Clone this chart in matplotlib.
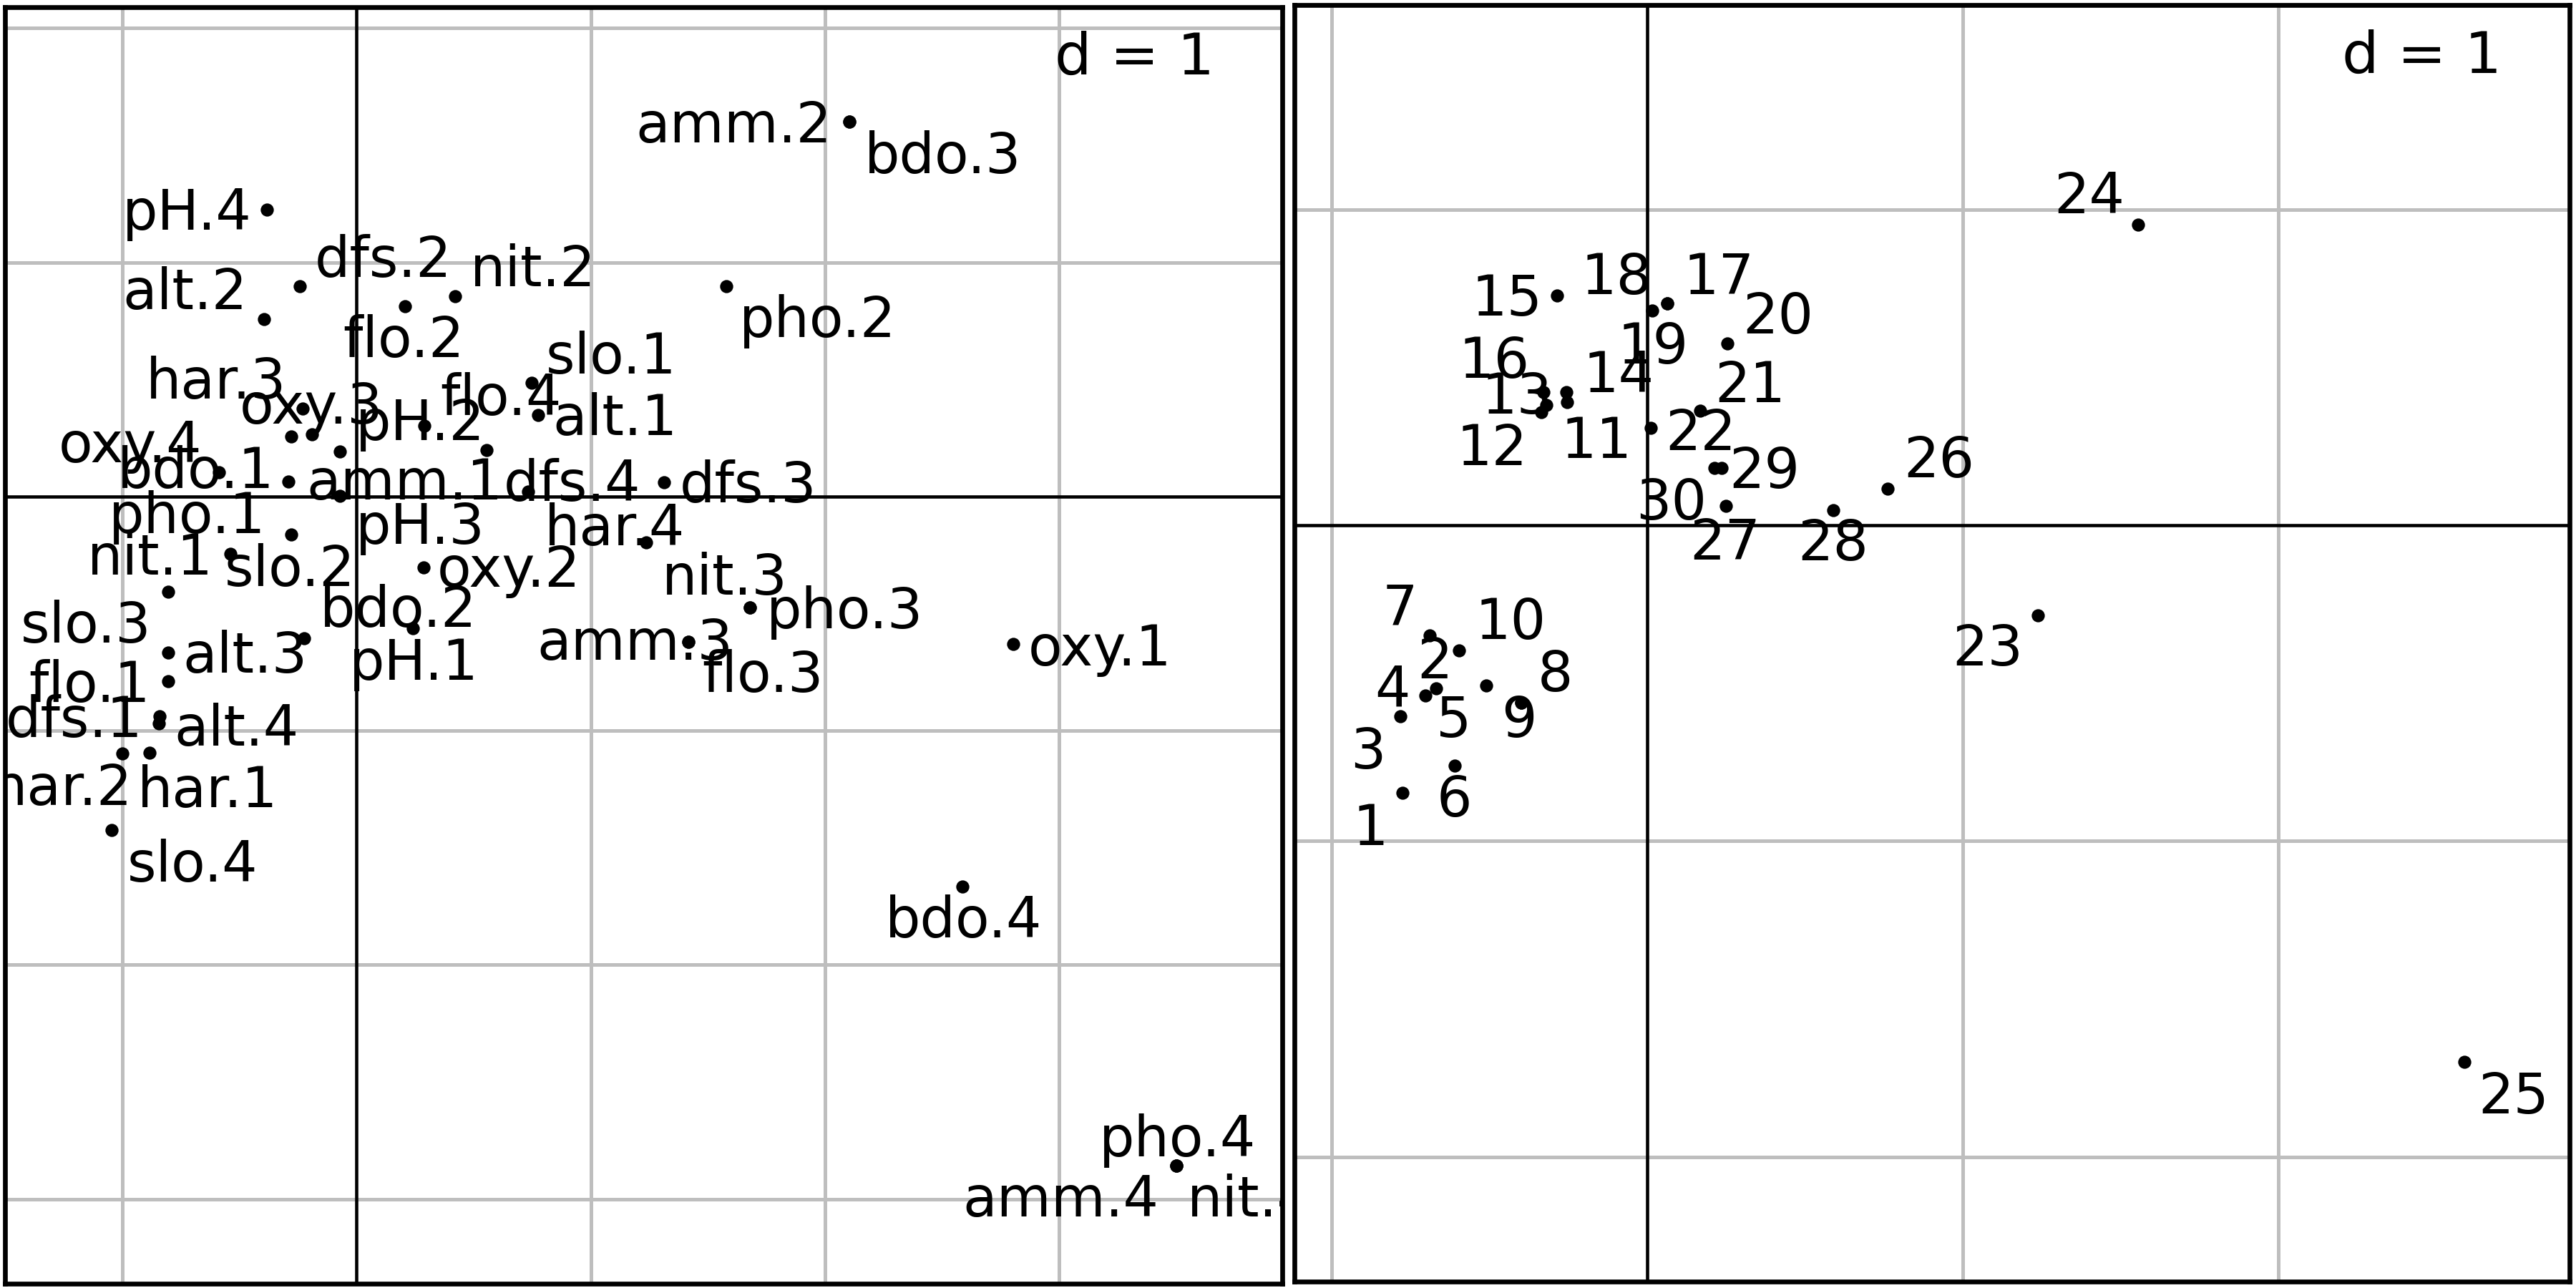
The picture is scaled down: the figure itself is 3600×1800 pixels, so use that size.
import matplotlib
matplotlib.use("Agg")
import matplotlib.pyplot as plt
import math

# left panel: modalities of the environmental variables
var_labels = ["dfs.1", "dfs.2", "dfs.3", "dfs.4",
              "alt.1", "alt.2", "alt.3", "alt.4",
              "slo.1", "slo.2", "slo.3", "slo.4",
              "flo.1", "flo.2", "flo.3", "flo.4",
              "pH.1", "pH.2", "pH.3", "pH.4",
              "har.1", "har.2", "har.3", "har.4",
              "pho.1", "pho.2", "pho.3", "pho.4",
              "nit.1", "nit.2", "nit.3", "nit.4",
              "amm.1", "amm.2", "amm.3", "amm.4",
              "oxy.1", "oxy.2", "oxy.3", "oxy.4",
              "bdo.1", "bdo.2", "bdo.3", "bdo.4"]
var_x = [-0.842, -0.242, 1.313, 0.733,
         0.774, -0.397, -0.805, -0.845,
         0.747, -0.278, -0.805, -1.046,
         -0.805, 0.205, 1.417, 0.555,
         0.240, 0.290, -0.071, -0.383,
         -0.886, -1.000, -0.231, 1.237,
         -0.280, 1.579, 1.680, 3.502,
         -0.540, 0.421, 1.680, 3.502,
         -0.071, 2.105, 1.417, 3.502,
         2.803, 0.285, -0.190, -0.588,
         -0.291, -0.225, 2.105, 2.588]
var_y = [-0.938, 0.898, 0.061, 0.022,
         0.348, 0.758, -0.666, -0.969,
         0.485, -0.162, -0.406, -1.425,
         -0.788, 0.813, -0.622, 0.197,
         -0.564, 0.302, 0.002, 1.226,
         -1.094, -1.099, 0.376, -0.195,
         0.256, 0.898, -0.474, -2.858,
         -0.245, 0.855, -0.474, -2.858,
         0.193, 1.600, -0.622, -2.858,
         -0.629, -0.304, 0.266, 0.103,
         0.064, -0.605, 1.600, -1.666]

# right panel: sites 1..30
site_labels = ["1", "2", "3", "4", "5", "6", "7", "8", "9", "10",
               "11", "12", "13", "14", "15", "16", "17", "18", "19", "20",
               "21", "22", "23", "24", "25", "26", "27", "28", "29", "30"]
site_x = [-0.775, -0.669, -0.782, -0.703, -0.509, -0.610, -0.688, -0.398, -0.398, -0.595,
          -0.253, -0.334, -0.318, -0.255, -0.285, -0.328, 0.064, 0.064, 0.017, 0.256,
          0.169, 0.013, 1.239, 1.557, 2.590, 0.763, 0.251, 0.590, 0.236, 0.214]
site_y = [-0.847, -0.517, -0.605, -0.539, -0.507, -0.760, -0.348, -0.562, -0.562, -0.396,
          0.391, 0.359, 0.382, 0.423, 0.729, 0.423, 0.703, 0.703, 0.680, 0.576,
          0.362, 0.308, -0.284, 0.953, -1.700, 0.117, 0.061, 0.048, 0.181, 0.181]

# where each label sits relative to its point (offset points, label centre/baseline)
var_offsets = [(-28.7, -7.0), (27.8, 3.2), (28.1, -6.7), (14.8, -3.2),
               (26.0, -6.8), (-26.4, 3.4), (25.7, -6.8), (26.0, -7.4),
               (26.7, 3.2), (-0.6, -17.2), (-27.5, -17.2), (27.1, -17.2),
               (-26.4, -7.0), (-0.3, -17.2), (25.0, -16.8), (4.8, 11.8),
               (0.3, -17.1), (-1.5, -4.7), (26.9, -16.0), (-26.9, -6.9),
               (19.6, -18.3), (-20.2, -17.2), (-29.0, 3.4), (-10.6, -1.0),
               (-34.8, -32.4), (30.7, -17.0), (31.7, -7.0), (0.2, 3.2),
               (-26.9, -7.0), (26.1, 3.4), (-8.4, 4.3), (24.6, -17.1),
               (21.6, -16.2), (-38.9, -6.9), (-18.0, -5.9), (-38.9, -17.1),
               (29.2, -7.2), (28.6, -6.4), (-0.2, 3.6), (-29.7, 3.4),
               (-31.1, -2.1), (31.7, 3.8), (31.3, -17.2), (0.4, -17.0)]
site_offsets = [(-10.8, -17.6), (-0.4, 3.5), (-10.8, -17.6), (-11.0, -3.7), (-10.9, -17.2),
                (0.0, -17.2), (-10.0, 3.2), (11.5, 3.8), (-0.8, -11.4), (17.2, 3.8),
                (9.9, -18.8), (-16.6, -17.7), (-9.8, -3.0), (17.4, -0.2), (-16.8, -6.9),
                (-16.5, 4.8), (17.3, 3.2), (-16.9, 3.2), (0.2, -17.7), (16.9, 3.4),
                (16.8, 3.0), (16.7, -7.3), (-16.8, -16.8), (-16.5, 3.8), (16.5, -17.2),
                (17.1, 3.8), (-0.3, -17.9), (0.0, -16.8), (14.5, -6.7), (-14.4, -17.3)]

GRID = "#bebebe"
FS = 18.7


def draw_panel(ax, xs, ys, labels, offsets, xlim, ylim):
    ax.set_xlim(xlim)
    ax.set_ylim(ylim)
    # grid every unit (d = 1), origin lines in black
    for v in range(math.ceil(xlim[0]), math.floor(xlim[1]) + 1):
        if v != 0:
            ax.axvline(v, color=GRID, lw=1.2, zorder=0)
    for v in range(math.ceil(ylim[0]), math.floor(ylim[1]) + 1):
        if v != 0:
            ax.axhline(v, color=GRID, lw=1.2, zorder=0)
    ax.axvline(0, color="black", lw=1.1, zorder=1)
    ax.axhline(0, color="black", lw=1.1, zorder=1)

    ax.plot(xs, ys, "o", color="black", markersize=4.4, markeredgewidth=0, zorder=3)
    for lab, x, y, off in zip(labels, xs, ys, offsets):
        ax.annotate(lab, xy=(x, y), xytext=off, textcoords="offset points",
                    ha="center", va="baseline", fontsize=FS, clip_on=True, zorder=4)

    ax.text(0.947, 0.947, "d = 1", transform=ax.transAxes, ha="right",
            va="baseline", fontsize=19.5, zorder=5)
    ax.set_xticks([])
    ax.set_yticks([])
    for s in ax.spines.values():
        s.set_linewidth(1.6)
        s.set_color("black")


fig = plt.figure(figsize=(12, 6), dpi=300)
ax1 = fig.add_axes([7 / 3600, 6 / 1800, 1784.5 / 3600, 1784.4 / 1800])
ax2 = fig.add_axes([1809 / 3600, 9 / 1800, 1782 / 3600, 1784 / 1800])

draw_panel(ax1, var_x, var_y, var_labels, var_offsets, (-1.502, 3.952), (-3.362, 2.091))
draw_panel(ax2, site_x, site_y, site_labels, site_offsets, (-1.117, 2.924), (-2.395, 1.648))

plt.savefig("out.png", dpi=300)
plt.close()
